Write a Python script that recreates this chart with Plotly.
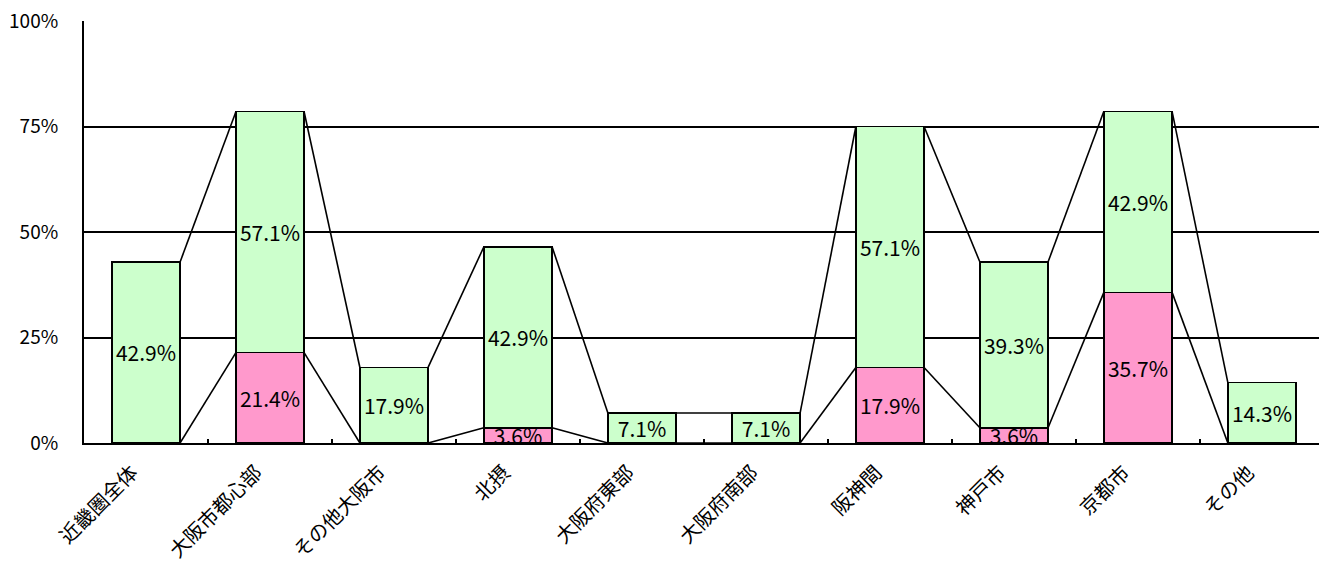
import plotly.graph_objects as go

categories = ["近畿圏全体", "大阪市都心部", "その他大阪市", "北摂", "大阪府東部",
              "大阪府南部", "阪神間", "神戸市", "京都市", "その他"]
pink_vals = [0.0, 21.4, 0.0, 3.6, 0.0, 0.0, 17.9, 3.6, 35.7, 0.0]
green_vals = [42.9, 57.1, 17.9, 42.9, 7.1, 7.1, 57.1, 39.3, 42.9, 14.3]
y_ticks = [0, 25, 50, 75, 100]
y_tick_labels = ["0%", "25%", "50%", "75%", "100%"]

FONT = "Noto Sans CJK JP"
BAR_W = 0.55

def lab(v):
    return f"{v:.1f}%" if v > 0 else ""

fig = go.Figure()
fig.add_trace(go.Bar(
    x=categories, y=pink_vals, width=BAR_W,
    marker=dict(color="#FF99CC", line=dict(color="black", width=1.5)),
    text=[lab(v) for v in pink_vals], textposition="inside",
    insidetextanchor="middle", constraintext="none", cliponaxis=True,
    textfont=dict(family=FONT, size=21, color="black"), textangle=0,
    hoverinfo="skip"))
fig.add_trace(go.Bar(
    x=categories, y=green_vals, width=BAR_W,
    marker=dict(color="#CCFFCC", line=dict(color="black", width=1.5)),
    text=[lab(v) for v in green_vals], textposition="inside",
    insidetextanchor="middle", constraintext="none", cliponaxis=True,
    textfont=dict(family=FONT, size=21, color="black"), textangle=0,
    hoverinfo="skip"))

# series lines (connectors between adjacent bars)
totals = [p + g for p, g in zip(pink_vals, green_vals)]
half = BAR_W / 2
for series in (pink_vals, totals):
    for i in range(len(categories) - 1):
        fig.add_shape(type="line", xref="x", yref="y",
                      x0=i + half, y0=series[i], x1=i + 1 - half, y1=series[i + 1],
                      line=dict(color="black", width=1.6), layer="above")

fig.update_layout(
    barmode="stack", width=1319, height=567,
    margin=dict(l=84, r=0, t=21, b=124),
    plot_bgcolor="white", paper_bgcolor="white", showlegend=False,
    font=dict(family=FONT, color="black"),
)
fig.update_xaxes(
    type="category", range=[-0.5, 9.46], tickson="boundaries", automargin=False,
    ticks="inside", ticklen=4, tickwidth=1.5, tickcolor="black",
    tickangle=-45, tickfont=dict(family=FONT, size=20, color="black"),
    ticklabelstandoff=8, ticklabelshift=-14,
    showline=True, linecolor="black", linewidth=2, showgrid=False,
)
fig.update_yaxes(
    range=[0, 100], tickmode="array", tickvals=y_ticks, ticktext=y_tick_labels,
    tickfont=dict(family=FONT, size=19, color="black"), automargin=False,
    showline=True, linecolor="black", linewidth=2, mirror=True,
    showgrid=True, gridcolor="black", gridwidth=1.6, zeroline=False,
    ticks="", ticklabelstandoff=20,
)
fig.write_html("out.html")
